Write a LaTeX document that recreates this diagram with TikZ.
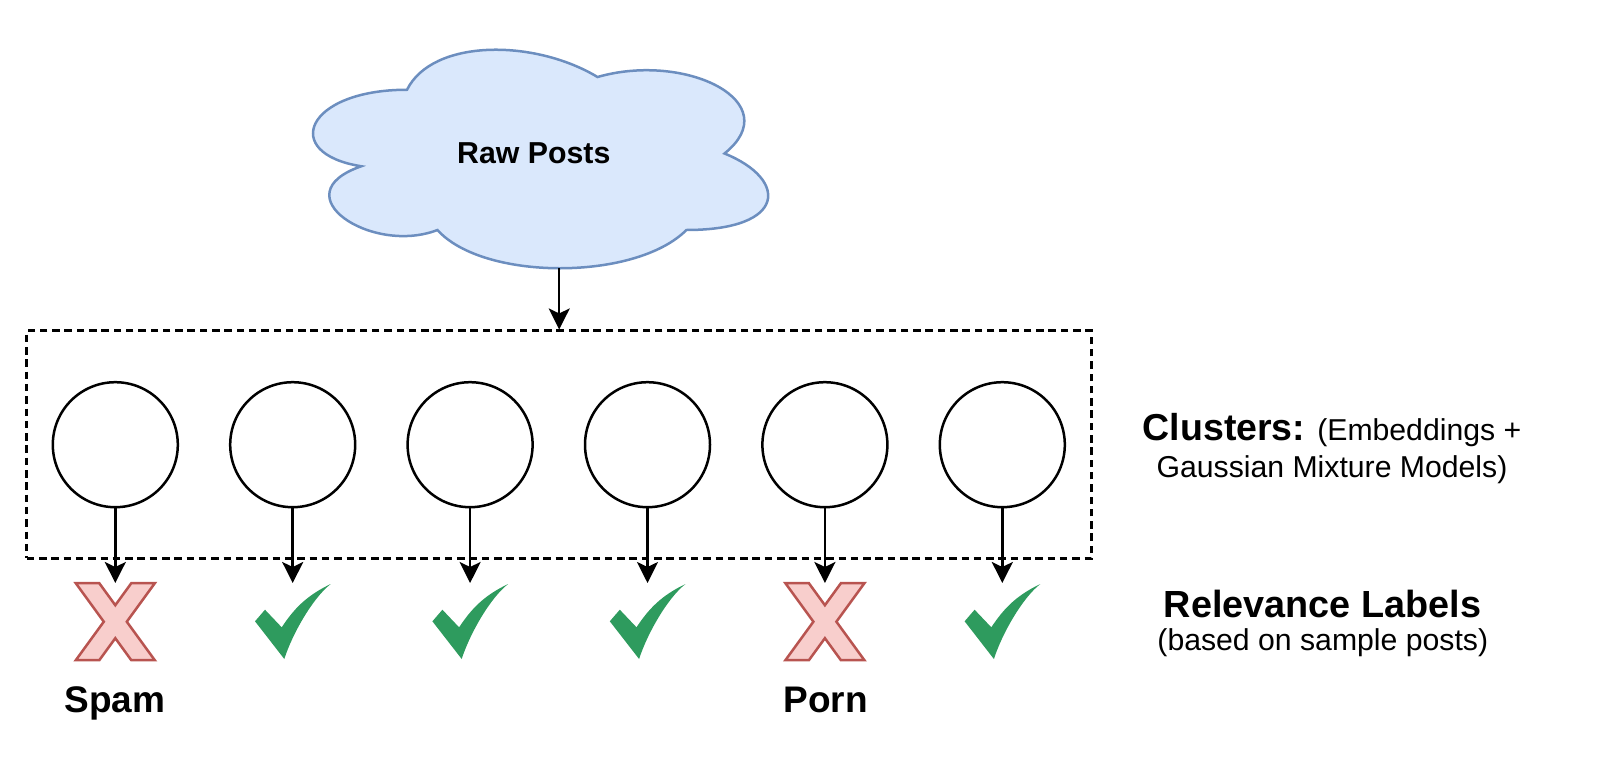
\documentclass[tikz,border=0pt]{standalone}
\usepackage{fontspec}
\setmainfont{Liberation Sans}
\usetikzlibrary{arrows.meta}
\definecolor{cloudfill}{HTML}{DAE8FC}
\definecolor{cloudline}{HTML}{6C8EBF}
\definecolor{xfill}{HTML}{F8CECC}
\definecolor{xline}{HTML}{B85450}
\definecolor{okgreen}{HTML}{2E9B5E}
\begin{document}
\begin{tikzpicture}[x=1pt,y=-1pt,
  cloudshape/.style={fill=cloudfill,draw=cloudline,line width=2.5pt},
  clus/.style={circle,draw=black,line width=2.5pt,minimum size=125pt,inner sep=0pt,fill=white},
  groupbox/.style={draw=black,line width=2.5pt,dash pattern=on 7.5pt off 4.8pt,minimum width=1065pt,minimum height=227.6pt,inner sep=0pt},
  arr/.style={line width=2.5pt,-{Stealth[length=21pt,width=21pt,inset=5pt]}},
  xstyle/.style={fill=xfill,draw=xline,line width=2.5pt,line join=miter},
  okstyle/.style={fill=okgreen,draw=none},
  txt/.style={inner sep=0pt,anchor=base},
  xmark/.pic={\path[xstyle] (-39.5,-38.5) -- (-16,-38.5) -- (0,-16.5) -- (16,-38.5) -- (39.5,-38.5) -- (11.5,0) -- (39.5,38.5) -- (16,38.5) -- (0,16.5) -- (-16,38.5) -- (-39.5,38.5) -- (-11.5,0) -- cycle;},
  okmark/.pic={\path[okstyle] (-37.7,-0.7) -- (-27.7,-12.3) -- (-11,5.3) .. controls (1,-12.7) and (13,-26) .. (38,-38) .. controls (20,-24) and (-0.4,12) .. (-8.4,37) -- cycle;}
]
\useasboundingbox (0,0) rectangle (1600,763);

% cloud
\path[cloudshape] (407,89.75)
  .. controls (305.4,89.75) and (280,153.5) .. (361.28,166.25)
  .. controls (280,194.3) and (371.44,255.5) .. (437.48,230)
  .. controls (483.2,281) and (635.6,281) .. (686.4,230)
  .. controls (788,230) and (788,179) .. (724.5,153.5)
  .. controls (788,102.5) and (686.4,51.5) .. (597.5,77)
  .. controls (534,38.75) and (432.4,38.75) .. (407,89.75) -- cycle;
\node[txt,font=\bfseries\fontsize{30.3}{36}\selectfont] (raw) at (533.8,163.3) {Raw Posts};
\coordinate (cloudbot) at (559.2,268);

% dashed group
\node[groupbox] (box) at (559.2,444.5) {};
\draw[arr] (cloudbot) -- (box.north);

% clusters, arrows, marks
\foreach \i/\x in {1/115.3,2/292.7,3/470.1,4/647.5,5/824.9,6/1002.3}{
  \node[clus] (c\i) at (\x,444.7) {};
  \coordinate (t\i) at (\x,583);
}
\pic at (115.3,621.7) {xmark};
\pic at (824.9,621.7) {xmark};
\foreach \x in {292.7,470.1,647.5,1002.3}{\pic at (\x,622) {okmark};}
\foreach \i in {1,...,6}{\draw[arr] (c\i.south) -- (t\i);}

% labels
\node[txt,font=\bfseries\fontsize{37}{44}\selectfont] (spam) at (115,712.5) {Spam};
\node[txt,font=\bfseries\fontsize{37}{44}\selectfont] (porn) at (825.5,712.5) {Porn};

\node[txt] (cl1) at (1332,440) {{\bfseries\fontsize{37.5}{45}\selectfont Clusters:}\hspace{12pt}{\fontsize{30.2}{36}\selectfont(Embeddings +}};
\node[txt,font=\fontsize{30.2}{36}\selectfont] (cl2) at (1332,477) {Gaussian Mixture Models)};
\node[txt,font=\bfseries\fontsize{37.8}{45}\selectfont] (rl1) at (1322.5,617) {Relevance Labels};
\node[txt,font=\fontsize{30.2}{36}\selectfont] (rl2) at (1322.8,650) {(based on sample posts)};
\end{tikzpicture}
\end{document}
